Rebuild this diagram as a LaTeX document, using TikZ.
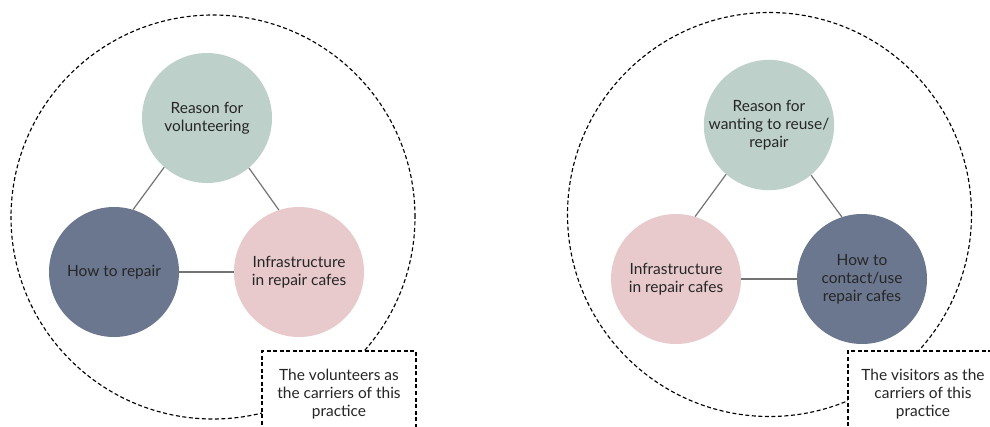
\documentclass[tikz,border=0pt]{standalone}
\usepackage{fontspec}
\setmainfont{Lato}
\definecolor{sage}{HTML}{BDD0C9}
\definecolor{slate}{HTML}{6B778F}
\definecolor{blush}{HTML}{E8CACC}
\def\link{\draw[black!55,line width=0.9pt]}
\tikzset{
  topic/.style={circle,minimum size=97.5pt,inner sep=0pt,align=center,
    font=\fontsize{11.6}{13.6}\selectfont,text=black!85},
  ring/.style={circle,draw,dash pattern=on 3pt off 1.9pt,line width=0.85pt,
    minimum size=303pt,inner sep=0pt},
  carrier/.style={rectangle,draw,fill=white,dash pattern=on 3pt off 1.9pt,
    line width=0.85pt,align=center,inner sep=0pt,
    font=\fontsize{11.6}{13.6}\selectfont,text=black!85}
}

\begin{document}
\begin{tikzpicture}[x=0.75pt,y=-0.75pt]
  \useasboundingbox (0,0) rectangle (990,426);
  \clip (0,0) rectangle (990,426);
  % volunteers
  \node[ring] (volring) at (213,217) {};
  \node[topic,fill=sage]  (volwhy)  at (207,118) {Reason for\\volunteering};
  \node[topic,fill=slate] (volhow)  at (114,272) {How to repair};
  \node[topic,fill=blush] (volinfra) at (299,272) {Infrastructure\\in repair cafes};
  \link (volwhy.229) -- (volhow.73);
  \link (volwhy.310) -- (volinfra.108);
  \link (volhow) -- (volinfra);
  \node[carrier,minimum width=115.5pt,minimum height=64.5pt] (volbox) at (339,394)
    {The volunteers as\\the carriers of this\\practice};
  % visitors
  \node[ring] (visring) at (769.5,214.5) {};
  \node[topic,fill=sage]  (viswhy)  at (769,125) {Reason for\\wanting to reuse/\\repair};
  \node[topic,fill=blush] (visinfra) at (676,279) {Infrastructure\\in repair cafes};
  \node[topic,fill=slate] (vishow)  at (862,279) {How to\\contact/use\\repair cafes};
  \link (viswhy.229) -- (visinfra.73);
  \link (viswhy.310) -- (vishow.108);
  \link (visinfra) -- (vishow);
  \node[carrier,minimum width=112.5pt,minimum height=64.5pt] (visbox) at (923,394)
    {The visitors as the\\carriers of this\\practice};
\end{tikzpicture}
\end{document}
